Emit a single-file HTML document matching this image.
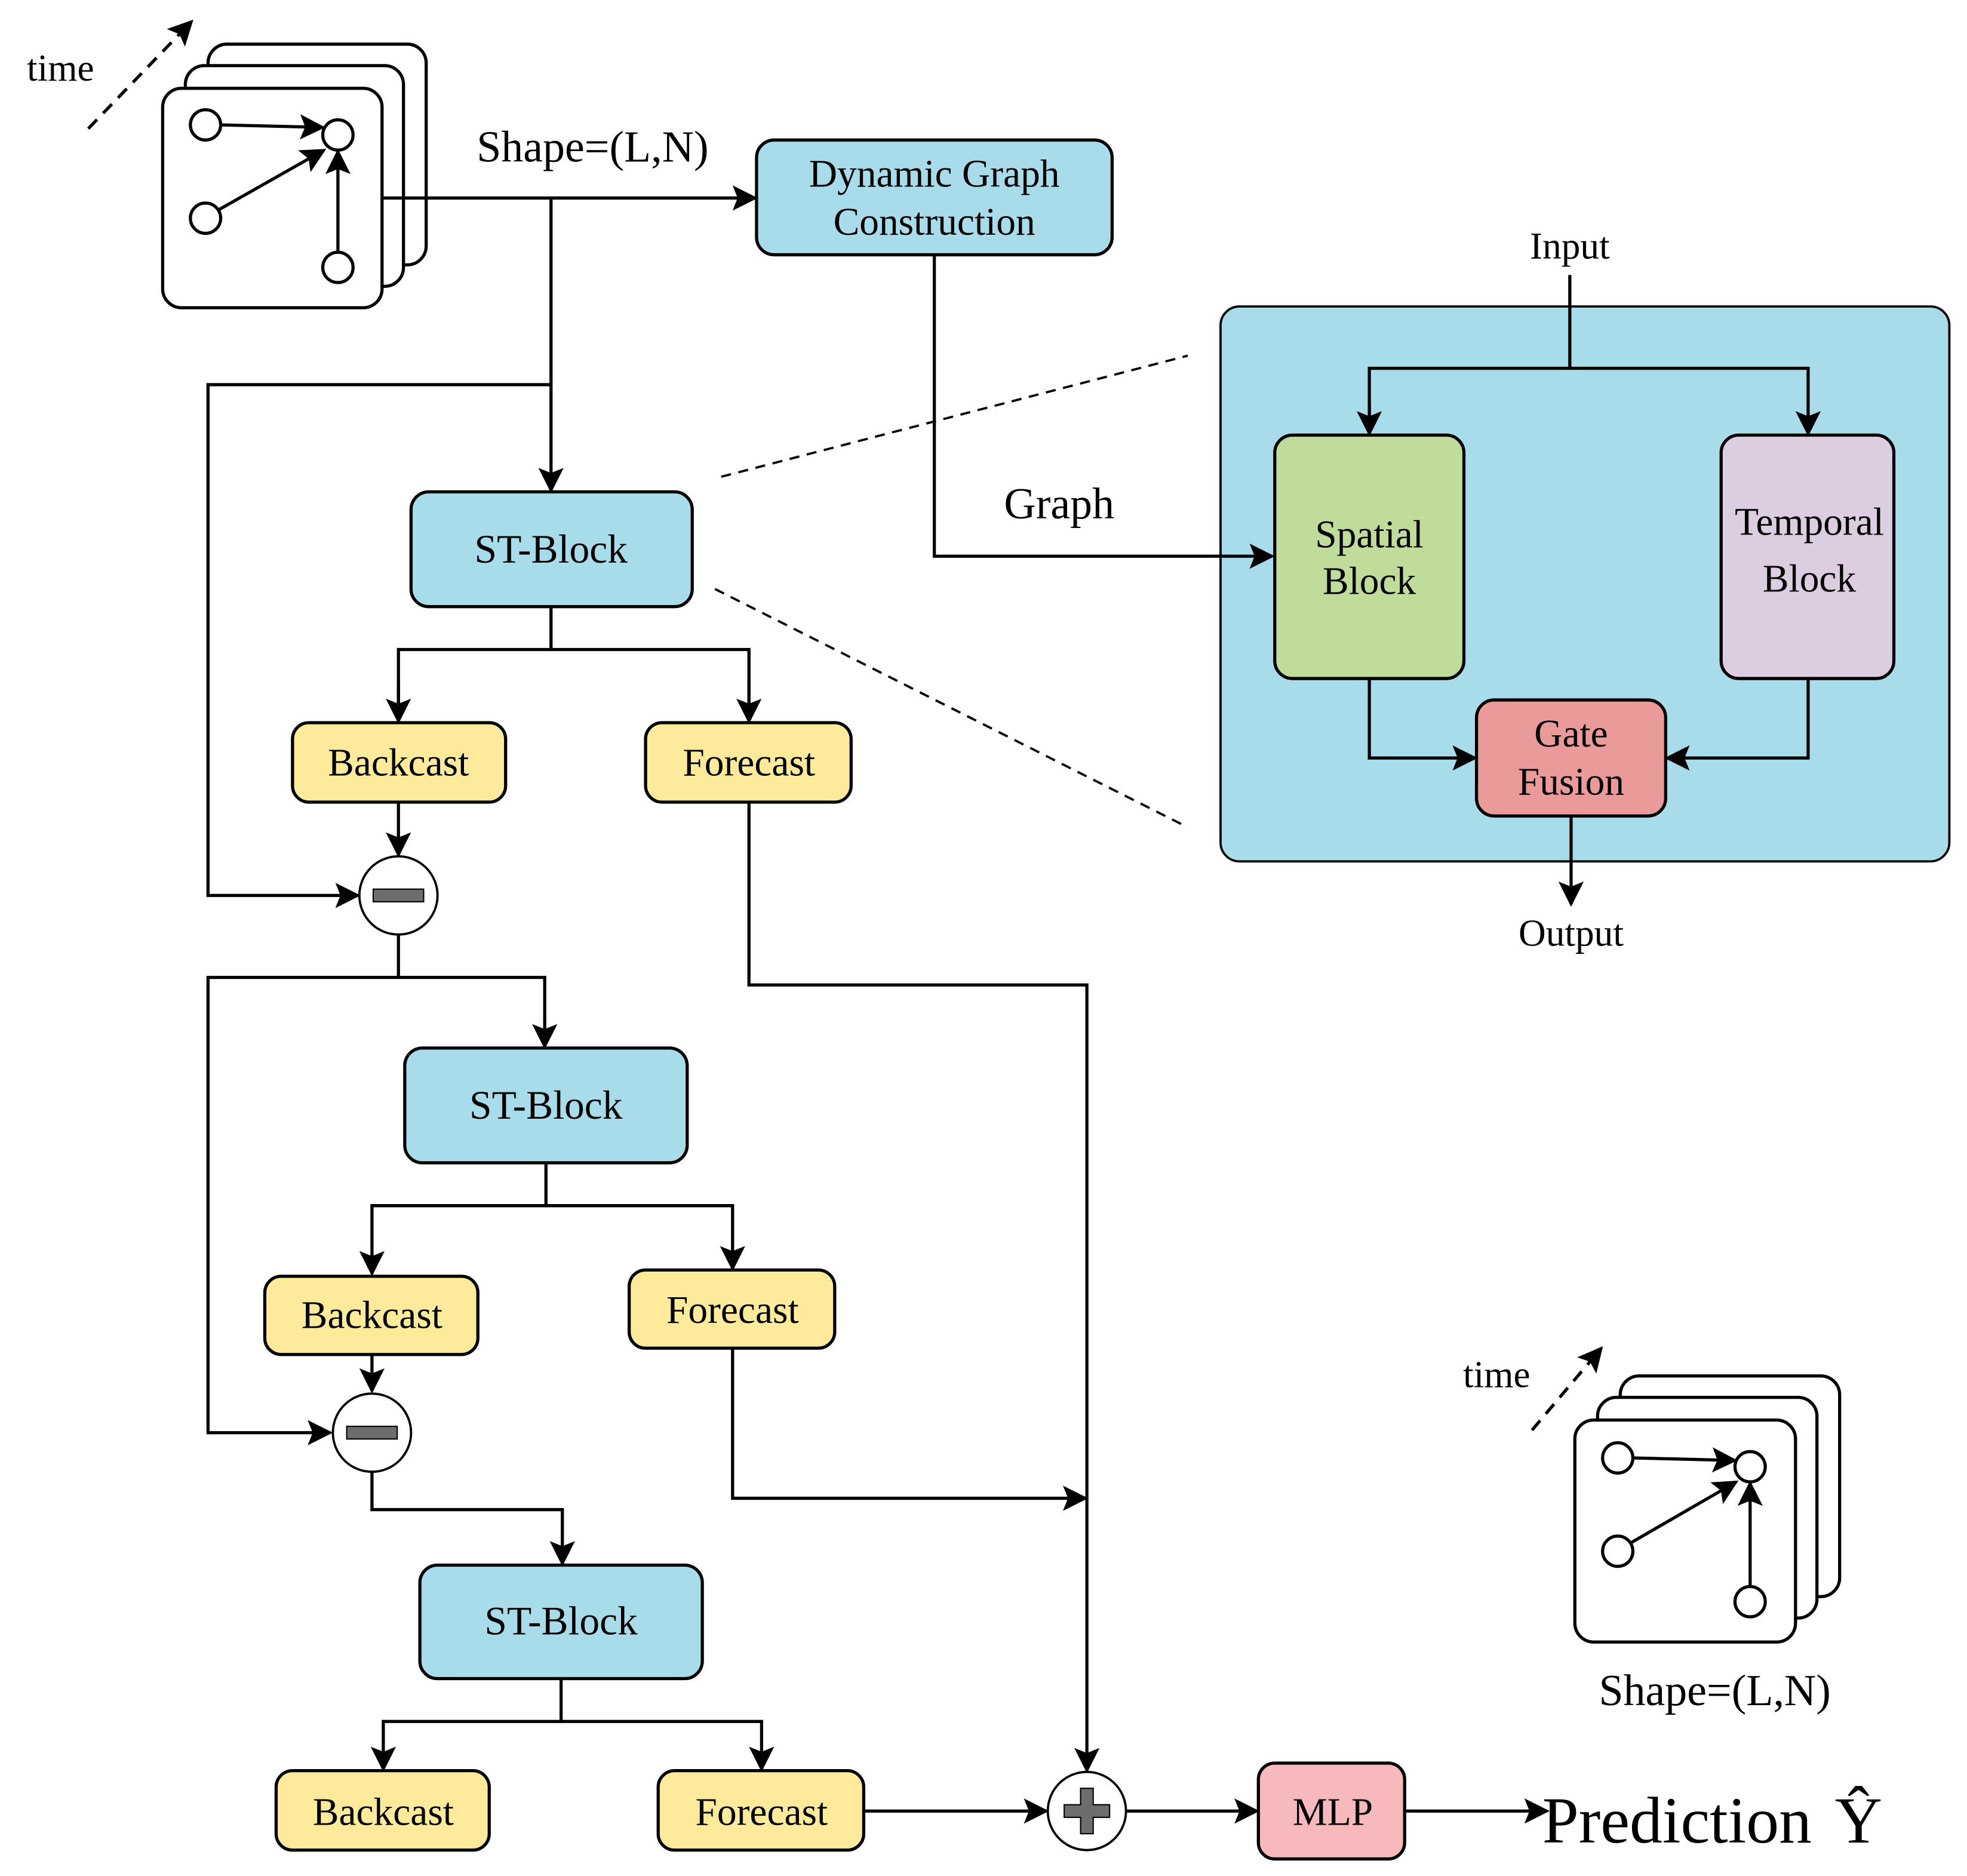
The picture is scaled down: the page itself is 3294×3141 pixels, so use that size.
<!DOCTYPE html>
<html><head><meta charset="utf-8"><style>html,body{margin:0;padding:0;background:#fff}svg{display:block}</style></head>
<body>
<svg width="3294" height="3141" viewBox="0 0 1560 1487.5" xmlns="http://www.w3.org/2000/svg" font-family="'Liberation Serif', serif">
<defs>
<marker id="b" viewBox="0 0 10 10" refX="9" refY="5" markerWidth="20" markerHeight="20" orient="auto" markerUnits="userSpaceOnUse"><path d="M0,0 L10,5 L0,10 L2,5 z" fill="#000"/></marker>
</defs>
<g stroke="#000" stroke-width="2.5" fill="none">
<rect x="165" y="35" width="173" height="175" rx="15" fill="#fff"/>
<rect x="147" y="52" width="173" height="175" rx="15" fill="#fff"/>
<rect x="129" y="70" width="174" height="174" rx="15" fill="#fff"/>
<circle cx="163" cy="99" r="12" fill="#fff"/><circle cx="268" cy="107" r="12" fill="#fff"/>
<circle cx="163" cy="173" r="12" fill="#fff"/><circle cx="268" cy="212" r="12" fill="#fff"/>
<line x1="175" y1="99" x2="256" y2="101" marker-end="url(#b)"/>
<line x1="174" y1="166" x2="257" y2="119" marker-end="url(#b)"/>
<line x1="268" y1="200" x2="268" y2="120" marker-end="url(#b)"/>
<line x1="70" y1="102" x2="152" y2="17" stroke-dasharray="10,7" marker-end="url(#b)"/>
<line x1="303" y1="157" x2="599" y2="157" marker-end="url(#b)"/>
<line x1="437" y1="157" x2="437" y2="389" marker-end="url(#b)"/>
<polyline points="437,305 165,305 165,710 284,710" marker-end="url(#b)"/>
<rect x="600" y="111" width="282" height="91" rx="14" fill="#a8dcea"/>
<line x1="572" y1="378" x2="942" y2="282" stroke-width="1.8" stroke-dasharray="8,6"/>
<line x1="567" y1="467" x2="942" y2="656" stroke-width="1.8" stroke-dasharray="8,6"/>
<rect x="326" y="390" width="223" height="91" rx="14" fill="#a8dcea"/>
<polyline points="437,481 437,515"/>
<polyline points="316,572 316,515 594,515 594,572"/>
<line x1="316" y1="540" x2="316" y2="572" marker-end="url(#b)"/>
<line x1="594" y1="540" x2="594" y2="572" marker-end="url(#b)"/>
<rect x="232" y="573" width="169" height="63" rx="13" fill="#fdea9b"/>
<rect x="512" y="573" width="163" height="63" rx="13" fill="#fdea9b"/>
<line x1="316" y1="636" x2="316" y2="678" marker-end="url(#b)"/>
<circle cx="316" cy="710" r="31" fill="#fff" stroke-width="1.8"/>
<polyline points="594,636 594,781 862,781 862,1404" marker-end="url(#b)"/>
<polyline points="316,741 316,775 432,775 432,830" marker-end="url(#b)"/>
<polyline points="316,775 165,775 165,1136 262,1136" marker-end="url(#b)"/>
<rect x="321" y="831" width="224" height="91" rx="14" fill="#a8dcea"/>
<polyline points="433,922 433,956 295,956 295,1010" marker-end="url(#b)"/>
<polyline points="433,956 581,956 581,1006" marker-end="url(#b)"/>
<rect x="210" y="1012" width="169" height="62" rx="13" fill="#fdea9b"/>
<rect x="499" y="1007" width="163" height="62" rx="13" fill="#fdea9b"/>
<line x1="295" y1="1074" x2="295" y2="1103" marker-end="url(#b)"/>
<circle cx="295" cy="1136" r="31" fill="#fff" stroke-width="1.8"/>
<polyline points="581,1069 581,1188 861,1188" marker-end="url(#b)"/>
<polyline points="295,1167 295,1197 446,1197 446,1240" marker-end="url(#b)"/>
<rect x="333" y="1241" width="224" height="90" rx="14" fill="#a8dcea"/>
<polyline points="445,1331 445,1365 304,1365 304,1403" marker-end="url(#b)"/>
<polyline points="445,1365 604,1365 604,1403" marker-end="url(#b)"/>
<rect x="219" y="1404" width="169" height="63" rx="13" fill="#fdea9b"/>
<rect x="522" y="1404" width="163" height="63" rx="13" fill="#fdea9b"/>
<line x1="685" y1="1436" x2="830" y2="1436" marker-end="url(#b)"/>
<circle cx="862" cy="1436" r="31" fill="#fff" stroke-width="1.8"/>
<line x1="893" y1="1436" x2="997" y2="1436" marker-end="url(#b)"/>
<rect x="998" y="1398" width="116" height="76" rx="13" fill="#f8b9bd"/>
<line x1="1114" y1="1436" x2="1227" y2="1436" marker-end="url(#b)"/>
<rect x="968" y="243" width="578" height="440" rx="15" fill="#a8dcea" stroke-width="1.8"/>
<polyline points="741,202 741,441 1009,441" marker-end="url(#b)"/>
<polyline points="1245,218 1245,292"/>
<polyline points="1086,344 1086,292 1434,292 1434,344" marker-end="url(#b)"/>
<line x1="1086" y1="320" x2="1086" y2="344" marker-end="url(#b)"/>
<rect x="1011" y="345" width="150" height="193" rx="14" fill="#bfdc9a"/>
<rect x="1365" y="345" width="137" height="193" rx="14" fill="#dccde0"/>
<rect x="1171" y="555" width="150" height="92" rx="14" fill="#eb9a9a"/>
<polyline points="1086,538 1086,601 1170,601" marker-end="url(#b)"/>
<polyline points="1434,538 1434,601 1322,601" marker-end="url(#b)"/>
<line x1="1246" y1="647" x2="1246" y2="717" marker-end="url(#b)"/>
<rect x="1285" y="1091" width="174" height="175" rx="15" fill="#fff"/>
<rect x="1267" y="1108" width="174" height="175" rx="15" fill="#fff"/>
<rect x="1249" y="1126" width="175" height="176" rx="15" fill="#fff"/>
<circle cx="1283" cy="1156" r="12" fill="#fff"/><circle cx="1388" cy="1163" r="12" fill="#fff"/>
<circle cx="1283" cy="1230" r="12" fill="#fff"/><circle cx="1388" cy="1270" r="12" fill="#fff"/>
<line x1="1295" y1="1156" x2="1376" y2="1158" marker-end="url(#b)"/>
<line x1="1294" y1="1223" x2="1377" y2="1175" marker-end="url(#b)"/>
<line x1="1388" y1="1258" x2="1388" y2="1176" marker-end="url(#b)"/>
<line x1="1215" y1="1134" x2="1270" y2="1069" stroke-dasharray="10,7" marker-end="url(#b)"/>
</g>
<g fill="#6d6d6d" stroke="#000" stroke-width="1">
<rect x="296" y="705" width="40" height="10"/>
<rect x="275" y="1131" width="40" height="10"/>
<path d="M857,1418 h10 v13 h13 v10 h-13 v13 h-10 v-13 h-13 v-10 h13 z"/>
</g>
<g fill="#000" text-anchor="middle" font-size="31">
<text x="48" y="64" font-size="30">time</text>
<text x="470" y="128" font-size="35">Shape=(L,N)</text>
<text x="741" y="148">Dynamic Graph</text>
<text x="741" y="186">Construction</text>
<text x="840" y="411" font-size="35">Graph</text>
<text x="437" y="446" font-size="32">ST-Block</text>
<text x="433" y="887" font-size="32">ST-Block</text>
<text x="445" y="1296" font-size="32">ST-Block</text>
<text x="316" y="615">Backcast</text>
<text x="594" y="615">Forecast</text>
<text x="295" y="1053">Backcast</text>
<text x="581" y="1049">Forecast</text>
<text x="304" y="1447">Backcast</text>
<text x="604" y="1447">Forecast</text>
<text x="1057" y="1447">MLP</text>
<text x="1330" y="1461" font-size="52">Prediction</text>
<text x="1474" y="1461" font-size="52">Ŷ</text>
<text x="1245" y="205" font-size="30">Input</text>
<text x="1086" y="434">Spatial</text>
<text x="1086" y="471">Block</text>
<text x="1435" y="424">Temporal</text>
<text x="1435" y="469">Block</text>
<text x="1246" y="592">Gate</text>
<text x="1246" y="630">Fusion</text>
<text x="1246" y="750" font-size="30">Output</text>
<text x="1187" y="1100" font-size="30">time</text>
<text x="1360" y="1352" font-size="35">Shape=(L,N)</text>
</g>
</svg>
</body></html>
